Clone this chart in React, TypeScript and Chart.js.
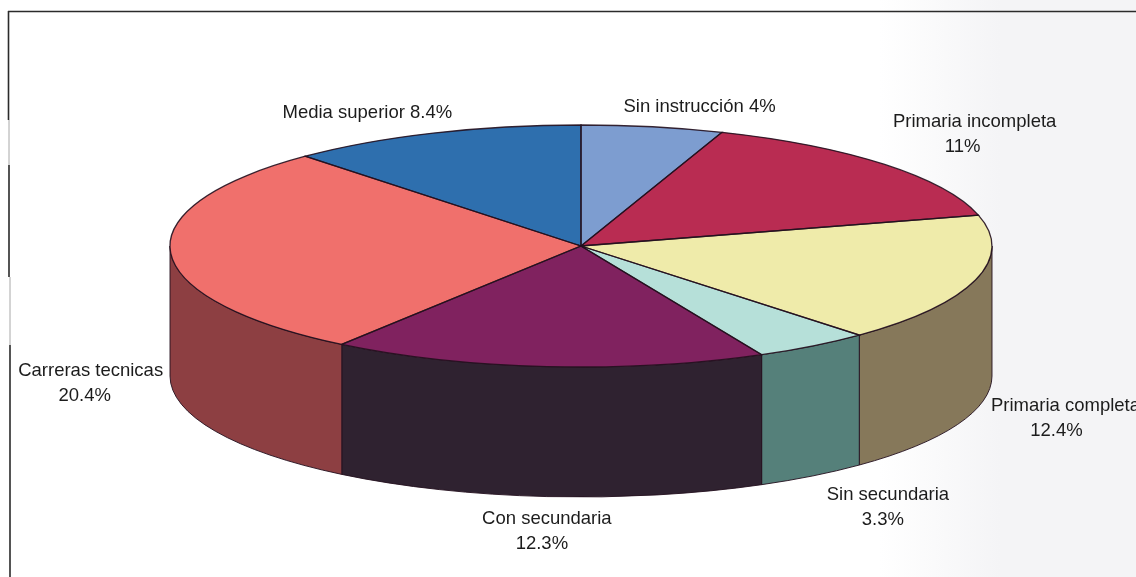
import React, { useEffect, useRef } from "react";
import { Chart, registerables } from "chart.js";

Chart.register(...registerables);

const categories = [
  "Sin instrucción",
  "Primaria incompleta",
  "Primaria completa",
  "Sin secundaria",
  "Con secundaria",
  "Carreras tecnicas",
  "Media superior",
];
const values = [4, 11, 12.4, 3.3, 12.3, 20.4, 8.4];
const topColors = ["#7d9dd0", "#b92c52", "#efebaa", "#b6e0d9", "#80225f", "#f0706c", "#2e6fae"];
const sideColors = ["#4d6283", "#74203a", "#86785a", "#55807a", "#2f2230", "#8d3f42", "#1f4870"];
const twoLineLabels = [false, true, true, true, true, true, false];
// first-line centre relative to the rim point at each slice's middle angle
const labelOffsets: [number, number][] = [
  [47, -20],
  [90, -30],
  [90, 138],
  [75, 162],
  [0, 165],
  [-80, 131],
  [-66, -20],
];
// horizontal shift of the percentage line against the name line
const secondLineShift = [0, -12, -9, -5, -5, -6, 0];

const CX = 581;
const CY = 246;
const RX = 411;
const RY = 121;
const DEPTH = 130;
const OUTLINE = "rgba(35,15,30,0.9)";

const pie3d = {
  id: "pie3d",
  beforeDraw(chart: any) {
    const { ctx, width, height } = chart;
    ctx.save();
    const bg = ctx.createLinearGradient(880, 0, 1000, 0);
    bg.addColorStop(0, "#ffffff");
    bg.addColorStop(1, "#f4f4f6");
    ctx.fillStyle = bg;
    ctx.fillRect(0, 0, width, height);
    ctx.strokeStyle = "#2b2b2b";
    ctx.lineWidth = 1.6;
    ctx.beginPath();
    ctx.moveTo(8, 11.5);
    ctx.lineTo(width, 11.5);
    ctx.moveTo(8.5, 11);
    ctx.lineTo(8.5, 120);
    ctx.moveTo(9, 165);
    ctx.lineTo(9, 277);
    ctx.moveTo(10, 345);
    ctx.lineTo(10, height);
    ctx.stroke();
    ctx.strokeStyle = "#a8a8a8";
    ctx.lineWidth = 1;
    ctx.beginPath();
    ctx.moveTo(9, 120);
    ctx.lineTo(9, 165);
    ctx.moveTo(10, 277);
    ctx.lineTo(10, 345);
    ctx.stroke();
    ctx.restore();
  },
  beforeDatasetDraw(chart: any) {
    const { ctx } = chart;
    const arcs = chart.getDatasetMeta(0).data;
    // side wall: only the part of each slice on the front half of the rim
    ctx.save();
    ctx.strokeStyle = OUTLINE;
    ctx.lineWidth = 1;
    arcs.forEach((el: any, i: number) => {
      const a0 = Math.max(el.startAngle, 0);
      const a1 = Math.min(el.endAngle, Math.PI);
      if (a1 <= a0) return;
      ctx.fillStyle = sideColors[i];
      ctx.beginPath();
      ctx.ellipse(CX, CY, RX, RY, 0, a0, a1);
      ctx.ellipse(CX, CY + DEPTH, RX, RY, 0, a1, a0, true);
      ctx.closePath();
      ctx.fill();
      ctx.stroke();
    });
    ctx.restore();
    // squash the library's round pie into the tilted top face
    const first = arcs[0];
    ctx.save();
    ctx.translate(CX, CY);
    ctx.scale(RX / first.outerRadius, RY / first.outerRadius);
    ctx.translate(-first.x, -first.y);
  },
  afterDatasetDraw(chart: any) {
    const { ctx } = chart;
    ctx.restore();
    const arcs = chart.getDatasetMeta(0).data;
    ctx.save();
    ctx.strokeStyle = OUTLINE;
    ctx.lineWidth = 1.3;
    arcs.forEach((el: any) => {
      ctx.beginPath();
      ctx.moveTo(CX, CY);
      ctx.ellipse(CX, CY, RX, RY, 0, el.startAngle, el.endAngle);
      ctx.closePath();
      ctx.stroke();
    });
    ctx.restore();
  },
  afterDatasetsDraw(chart: any) {
    const { ctx } = chart;
    const arcs = chart.getDatasetMeta(0).data;
    ctx.save();
    ctx.fillStyle = "#1c1c1c";
    ctx.font = '18.5px "Liberation Sans"';
    ctx.textAlign = "center";
    ctx.textBaseline = "middle";
    arcs.forEach((el: any, i: number) => {
      const mid = (el.startAngle + el.endAngle) / 2;
      const x = CX + RX * Math.cos(mid) + labelOffsets[i][0];
      const y = CY + RY * Math.sin(mid) + labelOffsets[i][1];
      const pct = `${values[i]}%`;
      if (twoLineLabels[i]) {
        ctx.fillText(categories[i], x, y - 12.5);
        ctx.fillText(pct, x + secondLineShift[i], y + 12.5);
      } else {
        ctx.fillText(`${categories[i]} ${pct}`, x, y);
      }
    });
    ctx.restore();
  },
};

export default function App() {
  const ref = useRef<HTMLCanvasElement>(null);
  useEffect(() => {
    document.body.style.margin = "0";
    const chart = new Chart(ref.current!, {
      type: "pie",
      data: {
        labels: categories,
        datasets: [
          {
            data: values,
            backgroundColor: topColors,
            borderWidth: 0,
            clip: false,
          } as any,
        ],
      },
      options: {
        responsive: false,
        animation: false,
        plugins: { legend: { display: false }, tooltip: { enabled: false } },
      },
      plugins: [pie3d],
    });
    return () => chart.destroy();
  }, []);
  return (
    <div style={{ width: 1136, height: 577, overflow: "hidden" }}>
      <canvas
        ref={ref}
        width={1136}
        height={577}
        style={{ display: "block", filter: "blur(0.5px)" }}
      />
    </div>
  );
}
